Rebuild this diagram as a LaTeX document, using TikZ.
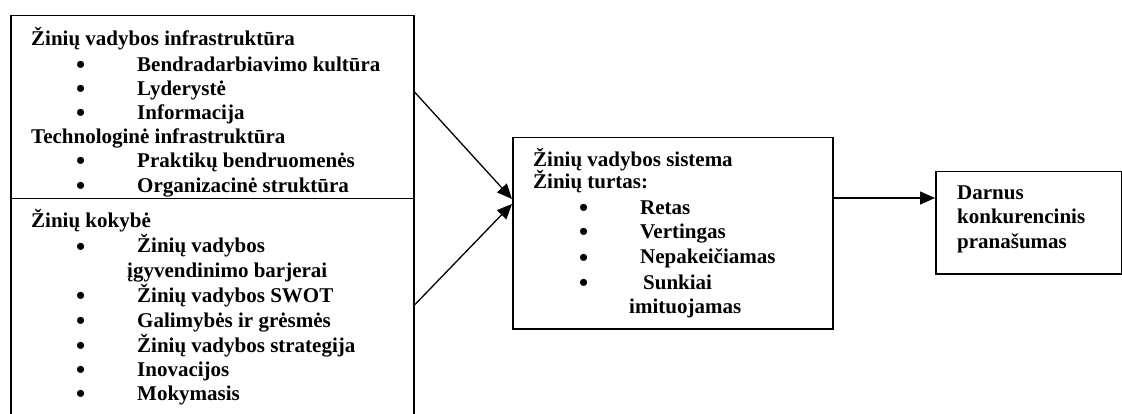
\documentclass[tikz,border=0pt]{standalone}
\usepackage{fontspec}
\setmainfont{Liberation Serif}
\usetikzlibrary{arrows.meta}
\tikzset{
  boxnode/.style={draw=black, line width=1.5pt, rectangle, inner sep=0pt, anchor=north west},
  txt/.style={inner sep=0pt, anchor=base west, font=\fontsize{21}{24}\selectfont\bfseries},
  bul/.style={inner sep=0pt, anchor=base west, yshift=-2pt, text height=12pt, text depth=0pt, font=\fontsize{26}{26}\selectfont\bfseries},
  arr/.style={draw=black, line width=1.3pt, -{Triangle[length=15pt,width=13pt]}}
}
\begin{document}
\begin{tikzpicture}[x=1pt,y=-1pt]
\useasboundingbox (0,0) rectangle (1122,414);
% boxes
\node[boxnode, minimum width=403pt, minimum height=183pt] (box1) at (10,15) {};
\node[boxnode, minimum width=403pt, minimum height=222pt] (box2) at (10,198) {};
\node[boxnode, minimum width=320pt, minimum height=191pt] (mid) at (512,137) {};
\node[boxnode, minimum width=186pt, minimum height=102pt] (res) at (935,171) {};
% box 1 text
\node[txt] (h1) at (31,46) {Žinių vadybos infrastruktūra};
\node[bul] (p1) at (76,71.5) {•};
\node[txt] (i1) at (137,71.5) {Bendradarbiavimo kultūra};
\node[bul] (p2) at (76,95.5) {•};
\node[txt] (i2) at (137,95.5) {Lyderystė};
\node[bul] (p3) at (76,119.5) {•};
\node[txt] (i3) at (137,119.5) {Informacija};
\node[txt] (h2) at (31,144) {Technologinė infrastruktūra};
\node[bul] (p4) at (76,168) {•};
\node[txt] (i4) at (137,168) {Praktikų bendruomenės};
\node[bul] (p5) at (76,192.5) {•};
\node[txt] (i5) at (137,192.5) {Organizacinė struktūra};
% box 2 text
\node[txt] (h3) at (31,228) {Žinių kokybė};
\node[bul] (p6) at (76,253) {•};
\node[txt] (i6) at (137,253) {Žinių vadybos};
\node[txt] (i6b) at (127,277) {įgyvendinimo barjerai};
\node[bul] (p7) at (76,302) {•};
\node[txt] (i7) at (137,302) {Žinių vadybos SWOT};
\node[bul] (p8) at (76,327) {•};
\node[txt] (i8) at (137,327) {Galimybės ir grėsmės};
\node[bul] (p9) at (76,352) {•};
\node[txt] (i9) at (137,352) {Žinių vadybos strategija};
\node[bul] (p10) at (76,376) {•};
\node[txt] (i10) at (137,376) {Inovacijos};
\node[bul] (p11) at (76,400) {•};
\node[txt] (i11) at (137,400) {Mokymasis};
% middle box text
\node[txt] (m1) at (533,167) {Žinių vadybos sistema};
\node[txt] (m2) at (533,189) {Žinių turtas:};
\node[bul] (q1) at (579,215) {•};
\node[txt] (n1) at (640,215) {Retas};
\node[bul] (q2) at (579,239) {•};
\node[txt] (n2) at (640,239) {Vertingas};
\node[bul] (q3) at (579,264) {•};
\node[txt] (n3) at (640,264) {Nepakeičiamas};
\node[bul] (q4) at (579,289) {•};
\node[txt] (n4) at (643,289) {Sunkiai};
\node[txt] (n4b) at (629,313) {imituojamas};
% result box text
\node[txt] (r1) at (957,200) {Darnus};
\node[txt] (r2) at (957,224) {konkurencinis};
\node[txt] (r3) at (957,248) {pranašumas};
% connectors
\draw[arr] (box1.east |- 0,92) -- (mid.west |- 0,199);
\draw[arr] (box2.east |- 0,305) -- (mid.west |- 0,204);
\draw[arr] (mid.east |- 0,198) -- (res.west |- 0,198);
\end{tikzpicture}
\end{document}
